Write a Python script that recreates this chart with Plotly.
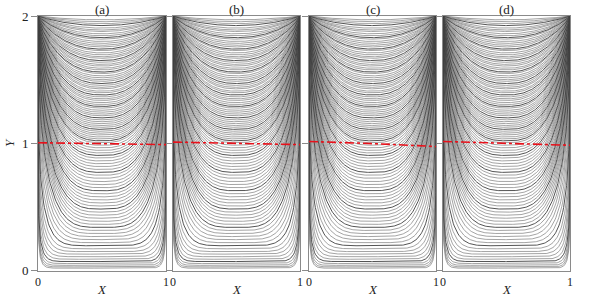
import numpy as np
import plotly.graph_objects as go

# ---- data ----
panel_titles = ["(a)", "(b)", "(c)", "(d)"]
y_tick_vals = [0, 1, 2]
x_tick_vals = [0, 1]

# heights at which the streamlines cross the vertical centre line X = 0.5
upper_centre_y = [1.97, 1.955, 1.94, 1.925, 1.905, 1.89, 1.878, 1.86, 1.845, 1.83,
                  1.818, 1.80, 1.785, 1.77, 1.757, 1.74, 1.728, 1.71, 1.695, 1.68,
                  1.668, 1.65, 1.636, 1.62, 1.607, 1.59, 1.577, 1.56, 1.548, 1.53,
                  1.515, 1.50, 1.487, 1.47, 1.455, 1.44, 1.428, 1.41, 1.397, 1.38,
                  1.365, 1.35, 1.337, 1.32, 1.305, 1.29, 1.277, 1.26, 1.245, 1.23,
                  1.217, 1.20, 1.185, 1.17, 1.155, 1.14, 1.126, 1.11, 1.095, 1.08,
                  1.066, 1.05, 1.035, 1.02, 1.005]
lower_centre_y = [0.985, 0.965, 0.945, 0.925, 0.905, 0.885, 0.862, 0.84, 0.818, 0.795,
                  0.772, 0.75, 0.726, 0.70, 0.676, 0.652, 0.628, 0.604, 0.58, 0.556,
                  0.532, 0.508, 0.484, 0.46, 0.436, 0.412, 0.388, 0.364, 0.34, 0.316,
                  0.292, 0.268, 0.244, 0.22, 0.196, 0.172, 0.15, 0.13, 0.11, 0.09,
                  0.072, 0.056, 0.042, 0.03, 0.02]

# red dash-dot interface line: Y at X = 0, 0.5, 1 for each panel
interface_x = [0, 0.5, 1]
interface_y_a = [1.005, 0.998, 0.99]
interface_y_b = [1.01, 1.0, 0.99]
interface_y_c = [1.015, 0.998, 0.975]
interface_y_d = [1.015, 1.0, 0.985]
interface_ys = [interface_y_a, interface_y_b, interface_y_c, interface_y_d]

centre_y = upper_centre_y + lower_centre_y

# ---- geometry (window pixels) ----
W, H = 613, 298
px_left = [38, 173, 309, 443]
px_right = [166, 300, 436, 570]
py_top, py_bottom = 16, 270.7


def fx(px):
    return px / W


def fy(py):
    return 1 - py / H


# sampling of |2X-1| dense near the walls
u_lin = np.linspace(0, 0.9, 60)
u_log = 1 - np.logspace(-1, -7, 90)
u = np.concatenate([u_lin, u_log, [1.0]])


def streamline(yc):
    d = 2 - yc
    s1 = d / 2
    s20 = (d / 2) ** 20
    p = 2 + 1.6 * s1 + 20 * s20
    q = 1 + 1.4 * s1 + 15 * s20
    prof = np.clip(1 - u ** p, 0, 1) ** (1 / q)
    y_half = 2 - d * prof
    x_left = (1 - u) / 2
    x_right = (1 + u) / 2
    xs = np.concatenate([x_left[::-1], x_right])
    ys = np.concatenate([y_half[::-1], y_half])
    return xs, ys


fig = go.Figure()
serif = "Liberation Serif, Times New Roman, DejaVu Serif, serif"
txt = "#222222"

for i in range(4):
    xa = "x" if i == 0 else f"x{i+1}"
    ya = "y" if i == 0 else f"y{i+1}"
    light_x, light_y, dark_x, dark_y = [], [], [], []
    for k, yc in enumerate(centre_y):
        xs, ys = streamline(yc)
        if k % 6 == 3:
            dark_x += list(xs) + [None]
            dark_y += list(ys) + [None]
        else:
            light_x += list(xs) + [None]
            light_y += list(ys) + [None]
    fig.add_trace(go.Scatter(x=light_x, y=light_y, mode="lines", xaxis=xa, yaxis=ya,
                             line=dict(color="#7c7c7c", width=0.7), hoverinfo="skip",
                             showlegend=False))
    fig.add_trace(go.Scatter(x=dark_x, y=dark_y, mode="lines", xaxis=xa, yaxis=ya,
                             line=dict(color="#404040", width=0.9), hoverinfo="skip",
                             showlegend=False))
    fig.add_trace(go.Scatter(x=interface_x, y=interface_ys[i], mode="lines", xaxis=xa,
                             yaxis=ya, line=dict(color="#e8101a", width=1.6, dash="dashdot"),
                             hoverinfo="skip", showlegend=False))

layout = dict(width=W, height=H, margin=dict(l=0, r=0, t=0, b=0, autoexpand=False),
              paper_bgcolor="white", plot_bgcolor="white",
              font=dict(family=serif, size=13, color=txt))

ydom = [fy(py_bottom), fy(py_top)]
for i in range(4):
    xk = "xaxis" if i == 0 else f"xaxis{i+1}"
    yk = "yaxis" if i == 0 else f"yaxis{i+1}"
    ya = "y" if i == 0 else f"y{i+1}"
    xa = "x" if i == 0 else f"x{i+1}"
    layout[xk] = dict(domain=[fx(px_left[i]), fx(px_right[i])], range=[0, 1],
                      anchor=ya, showgrid=False, zeroline=False, showline=True,
                      mirror=True, linecolor="#8a8a8a", linewidth=1, automargin=False,
                      tickvals=x_tick_vals, ticktext=[str(v) for v in x_tick_vals],
                      ticks="", tickfont=dict(family=serif, size=12, color=txt))
    layout[yk] = dict(domain=ydom, range=[0, 2], anchor=xa, showgrid=False,
                      zeroline=False, showline=True, mirror=True, linecolor="#8a8a8a",
                      linewidth=1, automargin=False, tickvals=y_tick_vals,
                      ticks="outside", ticklen=6,
                      tickcolor="#8a8a8a", showticklabels=(i == 0),
                      ticktext=[str(v) for v in y_tick_vals],
                      tickfont=dict(family=serif, size=13, color=txt))

annotations = []
for i in range(4):
    cx = fx((px_left[i] + px_right[i]) / 2)
    annotations.append(dict(text=panel_titles[i], x=cx, y=fy(9), xref="paper",
                            yref="paper", showarrow=False, xanchor="center",
                            yanchor="middle", font=dict(family=serif, size=13, color=txt)))
    annotations.append(dict(text="<i>X</i>", x=cx, y=fy(289), xref="paper",
                            yref="paper", showarrow=False, xanchor="center",
                            yanchor="middle", font=dict(family=serif, size=13, color=txt)))
annotations.append(dict(text="<i>Y</i>", x=fx(10), y=fy(143), xref="paper",
                        yref="paper", showarrow=False, textangle=-90, xanchor="center",
                        yanchor="middle", font=dict(family=serif, size=13, color=txt)))
layout["annotations"] = annotations

fig.update_layout(**layout)
fig.write_html("out.html", config={"displayModeBar": False},
               post_script="document.body.style.margin='0px';document.body.style.overflow='hidden';")
